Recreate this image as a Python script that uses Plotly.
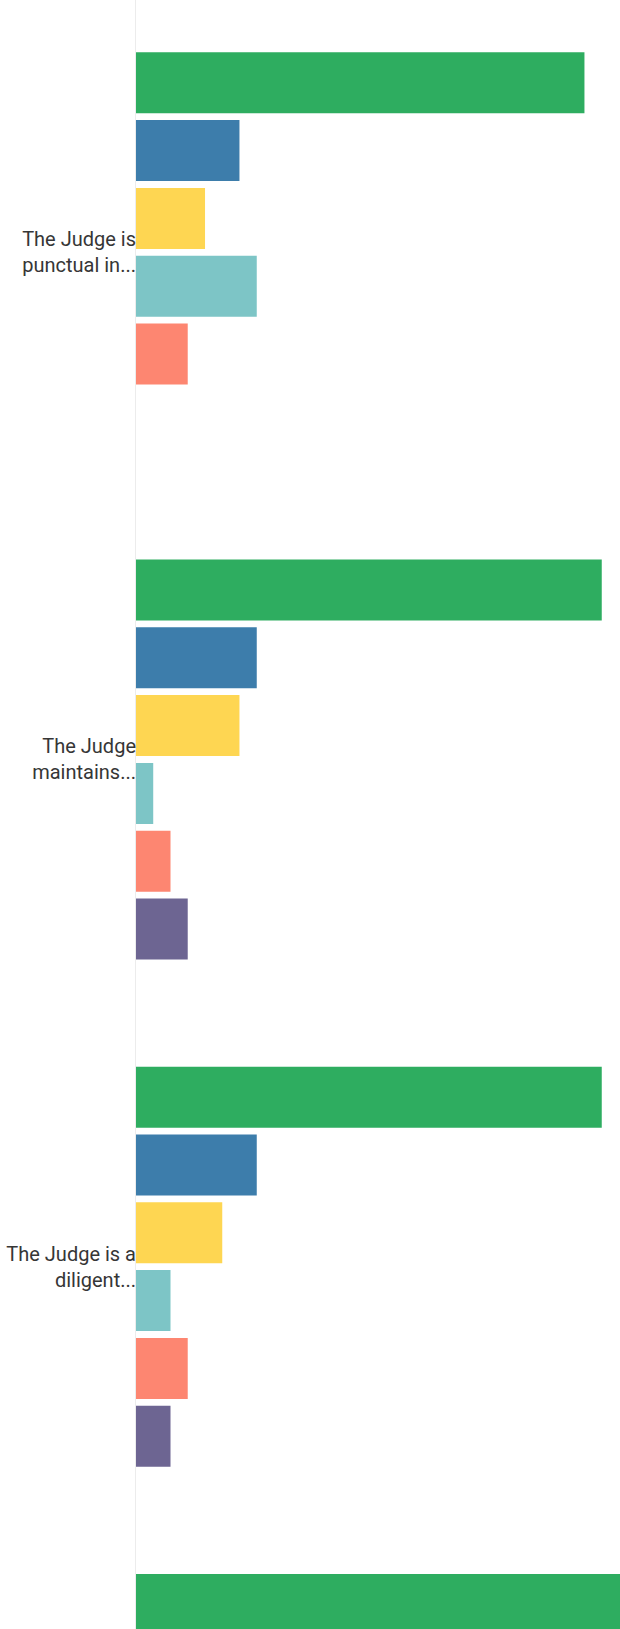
import plotly.graph_objects as go

# Questions (y categories) and per-answer percentages (n = 46 responses each)
questions = [
    "The Judge is<br>punctual in...",
    "The Judge<br>maintains...",
    "The Judge is a<br>diligent...",
    "The Judge is<br>courteous...",
]
answers = ["Excellent", "Very good", "Good", "Fair", "Poor", "Not applicable"]
colors = ["#2ead60", "#3d7dab", "#fed652", "#7dc5c6", "#fd8671", "#6d6592"]

excellent = [56.52, 58.70, 58.70, 63.04]
very_good = [13.04, 15.22, 15.22, None]
good = [8.70, 13.04, 10.87, None]
fair = [15.22, 2.17, 4.35, None]
poor = [6.52, 4.35, 6.52, None]
not_applicable = [0.00, 6.52, 4.35, None]

series = [excellent, very_good, good, fair, poor, not_applicable]

fig = go.Figure()
for name, vals, col in zip(answers, series, colors):
    fig.add_trace(go.Bar(
        y=questions,
        x=vals,
        name=name,
        orientation="h",
        marker=dict(color=col, line=dict(width=0)),
        showlegend=False,
    ))

fig.update_layout(
    width=620,
    height=1629,
    margin=dict(l=136, r=0, t=0, b=0),
    paper_bgcolor="white",
    plot_bgcolor="white",
    barmode="group",
    bargap=0.198,
    bargroupgap=0.1,
    font=dict(family="Roboto", size=20, color="#363636"),
    xaxis=dict(
        range=[0, 61],
        showgrid=False,
        zeroline=False,
        showticklabels=False,
        showline=False,
    ),
    yaxis=dict(
        type="category",
        range=[2.7143, -0.4974],
        showgrid=False,
        zeroline=False,
        showline=True,
        linecolor="#ececec",
        linewidth=1,
        ticks="",
        ticklabelstandoff=-5,
    ),
)

fig.write_html("out.html")
